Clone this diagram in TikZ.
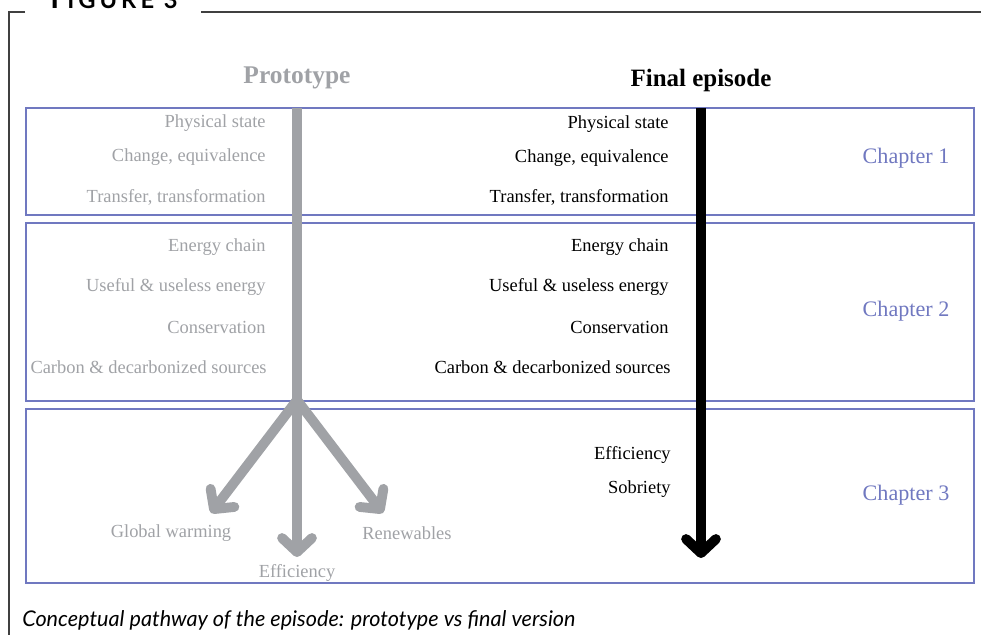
\documentclass[tikz,border=0pt]{standalone}
\usepackage{fontspec}
\setmainfont{Liberation Serif}
\newfontfamily\capfont{Lato}
\usetikzlibrary{arrows.meta}
\definecolor{protogray}{RGB}{160,162,166}
\definecolor{chapblue}{RGB}{112,120,192}
\tikzset{
  chapbox/.style={draw=chapblue, line width=1.3pt},
  chaplabel/.style={text=chapblue, font=\fontsize{12.6}{15}\selectfont},
  protostep/.style={anchor=east, text=protogray, font=\fontsize{10.5}{12}\selectfont, inner sep=0pt},
  finalstep/.style={anchor=east, font=\fontsize{10.5}{12}\selectfont, inner sep=0pt},
  protopath/.style={draw=protogray, line width=5.6pt, -{Straight Barb[round, length=8pt, width=17pt]}},
  finalpath/.style={draw=black, line width=5.6pt, -{Straight Barb[round, length=8pt, width=17pt]}},
}
\begin{document}
\begin{tikzpicture}[x=0.02cm, y=-0.02cm]
  \useasboundingbox (0,0) rectangle (981,635);
  % frame and title
  \draw [line width=0.8pt, black!75] (25,12) -- (9,12) -- (9,640);
  \draw [line width=0.8pt, black!75] (201,12) -- (981,12);
  \node (fig) [anchor=base west, inner sep=0pt] at (50,9) {\capfont\bfseries\addfontfeature{LetterSpace=17}{\fontsize{17}{19}\selectfont F}{\fontsize{13.5}{15}\selectfont IGURE 3}};
  % chapters
  \draw [chapbox] (26,108) rectangle (974,215);
  \draw [chapbox] (26,223) rectangle (974,401);
  \draw [chapbox] (26,409) rectangle (974,583);
  \node (ch1) [chaplabel] at (906,158) {Chapter 1};
  \node (ch2) [chaplabel] at (906,311) {Chapter 2};
  \node (ch3) [chaplabel] at (906,495) {Chapter 3};
  % headings
  \node (proto) [text=protogray, font=\bfseries\fontsize{14.5}{17}\selectfont] at (297,78) {Prototype};
  \node (final) [font=\bfseries\fontsize{14.2}{17}\selectfont] at (701,81) {Final episode};
  % prototype pathway
  \coordinate (ptop) at (297,108);
  \coordinate (pfork) at (297,400);
  \coordinate (pleft) at (211,513);
  \coordinate (pmid) at (297,557);
  \coordinate (pright) at (383,513);
  \draw [protogray, line width=5.6pt, line join=round] (ptop) -- (pfork);
  \draw [protopath] (pfork) -- (pleft);
  \draw [protopath] (pfork) -- (pmid);
  \draw [protopath] (pfork) -- (pright);
  \node (p1) [protostep] at (266,123) {Physical state};
  \node (p2) [protostep] at (266,157) {Change, equivalence};
  \node (p3) [protostep] at (266,197) {Transfer, transformation};
  \node (p4) [protostep] at (266,247) {Energy chain};
  \node (p5) [protostep] at (266,287) {Useful \& useless energy};
  \node (p6) [protostep] at (266,327) {Conservation};
  \node (p7) [protostep] at (267,367) {Carbon \& decarbonized sources};
  \node (pw) [text=protogray, font=\fontsize{10.5}{12}\selectfont] at (171,533) {Global warming};
  \node (pr) [text=protogray, font=\fontsize{10.5}{12}\selectfont] at (407,533) {Renewables};
  \node (pe) [text=protogray, font=\fontsize{10.5}{12}\selectfont] at (297,573) {Efficiency};
  % final pathway
  \coordinate (ftop) at (701,108);
  \coordinate (fend) at (701,558);
  \draw [finalpath] (ftop) -- (fend);
  \node (f1) [finalstep] at (669,124) {Physical state};
  \node (f2) [finalstep] at (669,158) {Change, equivalence};
  \node (f3) [finalstep] at (669,197) {Transfer, transformation};
  \node (f4) [finalstep] at (669,247) {Energy chain};
  \node (f5) [finalstep] at (669,287) {Useful \& useless energy};
  \node (f6) [finalstep] at (669,327) {Conservation};
  \node (f7) [finalstep] at (671,367) {Carbon \& decarbonized sources};
  \node (f8) [finalstep] at (671,455) {Efficiency};
  \node (f9) [finalstep] at (671,489) {Sobriety};
  % caption
  \node (cap) [anchor=west, inner sep=0pt, font=\capfont\itshape\fontsize{12.3}{14}\selectfont] at (22,620) {Conceptual pathway of the episode: prototype vs final version};
\end{tikzpicture}
\end{document}
